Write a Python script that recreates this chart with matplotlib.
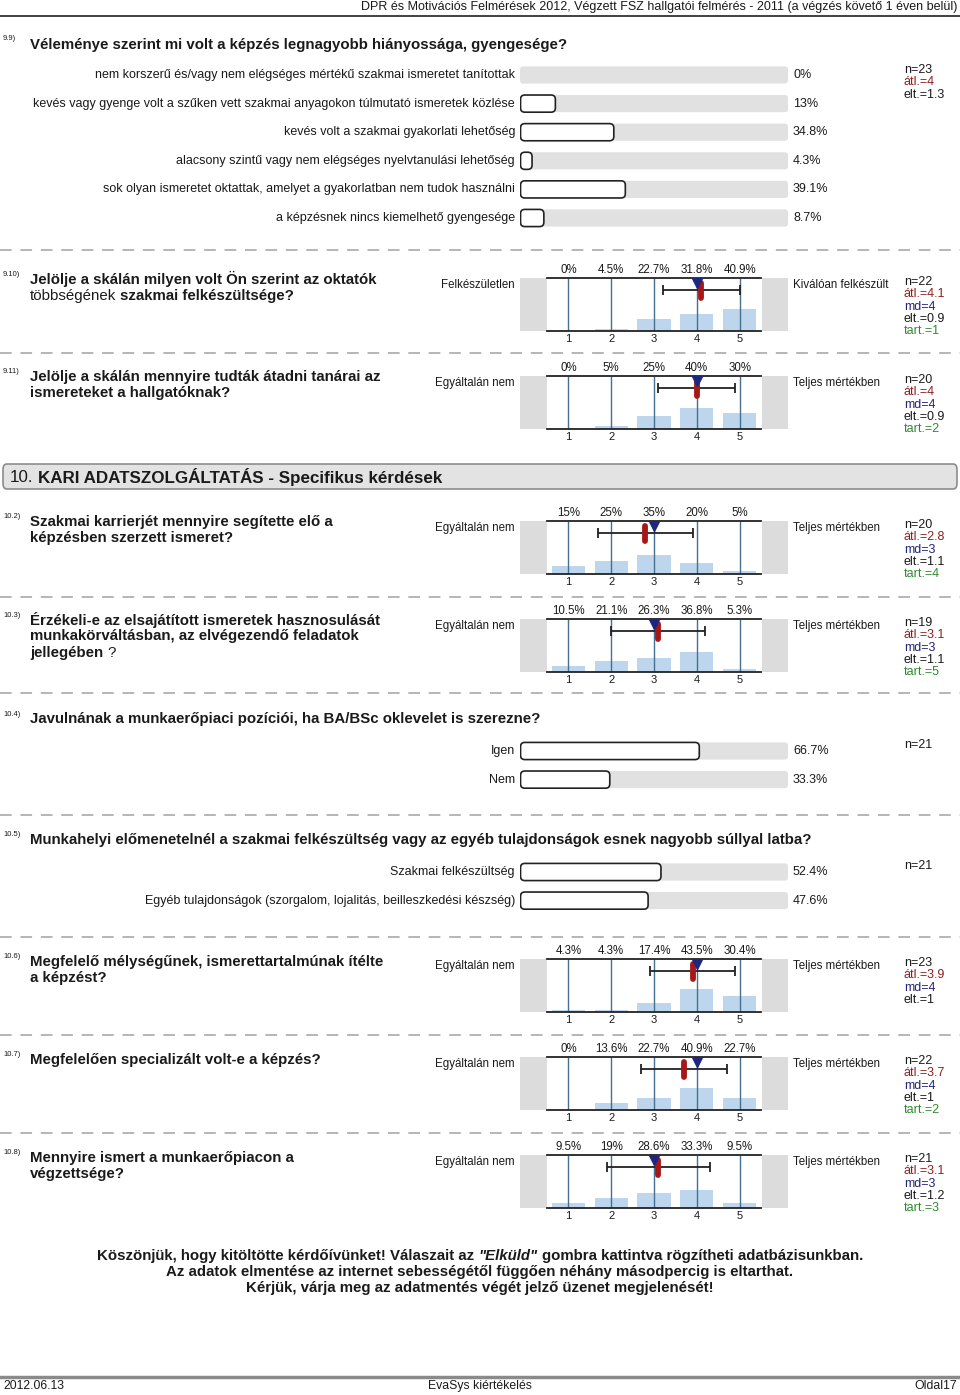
import matplotlib
matplotlib.use('Agg')
import matplotlib.pyplot as plt
from matplotlib.patches import FancyBboxPatch, Rectangle
from matplotlib.lines import Line2D

W, H = 960, 1395
SANS = ['Liberation Sans', 'DejaVu Sans']
plt.rcParams['font.family'] = SANS

# --- data ---------------------------------------------------------------
header = 'DPR és Motivációs Felmérések 2012, Végzett FSZ hallgatói felmérés - 2011 (a végzés követő 1 éven belül)'

q99_title = 'Véleménye szerint mi volt a képzés legnagyobb hiányossága, gyengesége?'
q99_labels = ['nem korszerű és/vagy nem elégséges mértékű szakmai ismeretet tanítottak',
              'kevés vagy gyenge volt a szűken vett szakmai anyagokon túlmutató ismeretek közlése',
              'kevés volt a szakmai gyakorlati lehetőség',
              'alacsony szintű vagy nem elégséges nyelvtanulási lehetőség',
              'sok olyan ismeretet oktattak, amelyet a gyakorlatban nem tudok használni',
              'a képzésnek nincs kiemelhető gyengesége']
q99_pct = [0, 13, 34.8, 4.3, 39.1, 8.7]
q99_stats = ['n=23', 'átl.=4', 'elt.=1.3']

q104_labels = ['Igen', 'Nem']
q104_pct = [66.7, 33.3]
q105_labels = ['Szakmai felkészültség',
               'Egyéb tulajdonságok (szorgalom, lojalitás, beilleszkedési készség)']
q105_pct = [52.4, 47.6]

scale_cats = [1, 2, 3, 4, 5]
s910_pct = [0, 4.5, 22.7, 31.8, 40.9]
s911_pct = [0, 5, 25, 40, 30]
s102_pct = [15, 25, 35, 20, 5]
s103_pct = [10.5, 21.1, 26.3, 36.8, 5.3]
s106_pct = [4.3, 4.3, 17.4, 43.5, 30.4]
s107_pct = [0, 13.6, 22.7, 40.9, 22.7]
s108_pct = [9.5, 19, 28.6, 33.3, 9.5]

# mean, median, std dev, n, tart (None = not shown)
s910_st = (4.1, 4, 0.9, 22, 1)
s911_st = (4, 4, 0.9, 20, 2)
s102_st = (2.8, 3, 1.1, 20, 4)
s103_st = (3.1, 3, 1.1, 19, 5)
s106_st = (3.9, 4, 1, 23, None)
s107_st = (3.7, 4, 1, 22, 2)
s108_st = (3.1, 3, 1.2, 21, 3)

thanks1 = 'Köszönjük, hogy kitöltötte kérdőívünket! Válaszait az'
thanks2 = 'Az adatok elmentése az internet sebességétől függően néhány másodpercig is eltarthat.'
thanks3 = 'Kérjük, várja meg az adatmentés végét jelző üzenet megjelenését!'
section = 'KARI ADATSZOLGÁLTATÁS - Specifikus kérdések'

RED = '#8e1f1f'
BLUE = '#23237a'
GREEN = '#2f8a2f'
DARK = '#1a1a1a'

fig = plt.figure(figsize=(W / 100, H / 100), dpi=100)
renderer = fig.canvas.get_renderer()


def txt(x, y, s, **kw):
    kw.setdefault('va', 'center')
    return fig.text(x / W, 1 - y / H, s, **kw)


def width_of(s, **kw):
    t = fig.text(0, 0, s, **kw)
    w = t.get_window_extent(renderer).width
    t.remove()
    return w


def fit_size(s, target, weight='bold'):
    return 10 * target / width_of(s, fontsize=10, fontweight=weight)


def rich(x, y, parts, size, center=False):
    # parts: list of (text, weight, style)
    ws = [width_of(p[0], fontsize=size, fontweight=p[1], fontstyle=p[2]) for p in parts]
    gap = width_of('x x', fontsize=size) - width_of('xx', fontsize=size)
    total = sum(ws) + gap * (len(parts) - 1)
    cx = x - total / 2 if center else x
    for p, w in zip(parts, ws):
        txt(cx, y, p[0], fontsize=size, fontweight=p[1], fontstyle=p[2], color=DARK)
        cx += w + gap


def qnum(y, s):
    txt(3, y, s, fontsize=5.5, color=DARK)


def dashed(y):
    fig.add_artist(Line2D([0, 1], [1 - y / H] * 2, color='#b5b5b5', lw=1.4,
                          dashes=(6, 4.5), transform=fig.transFigure))


def stats(y, items):
    for i, (s, c) in enumerate(items):
        txt(904, y + i * 12.3, s, fontsize=9, color=c)


def hbars(y0, labels, values):
    k = len(labels)
    step = 28.6
    ax = fig.add_axes([520 / W, 1 - (y0 + (k - 0.5) * step) / H, 268 / W, k * step / H])
    ax.set_xlim(0, 100)
    ax.set_ylim(k - 0.5, -0.5)
    ax.axis('off')
    asp = (1 / step) / (100 / 268)
    for i, (lab, v) in enumerate(zip(labels, values)):
        ax.add_patch(FancyBboxPatch((0, i - 0.3), 100, 0.6,
                                    boxstyle='round,pad=0,rounding_size=1.2',
                                    mutation_aspect=asp, fc='#e1e1e1', ec='none'))
        if v > 0:
            ax.add_patch(FancyBboxPatch((0.2, i - 0.3), v, 0.6,
                                        boxstyle='round,pad=0,rounding_size=1.6',
                                        mutation_aspect=asp, fc='white', ec='#222222', lw=1.2))
        ax.annotate(lab, xy=(0, i), xytext=(-5, 0), textcoords='offset pixels',
                    ha='right', va='center', fontsize=9, color=DARK, annotation_clip=False)
        ax.annotate(f'{v:g}%', xy=(100, i), xytext=(5, 0), textcoords='offset pixels',
                    ha='left', va='center', fontsize=9, color=DARK, annotation_clip=False)


def scale_panel(top, pcts, st, left_lab, right_lab):
    mean, md, sd, n, tart = st
    ax = fig.add_axes([547 / W, 1 - (top + 53) / H, 214 / W, 53 / H])
    ax.set_xlim(0.5, 5.5)
    ax.set_ylim(0, 100)
    ax.bar(scale_cats, pcts, width=0.78, color='#bdd6ee', zorder=1)
    ax.vlines(scale_cats, 0, 100, color='#45708f', lw=1, zorder=2)
    for side in ['left', 'right']:
        ax.spines[side].set_visible(False)
    for side in ['top', 'bottom']:
        ax.spines[side].set_linewidth(1.3)
        ax.spines[side].set_color('#222222')
    ax.set_xticks(scale_cats)
    ax.set_xticklabels([str(c) for c in scale_cats], fontsize=8, color=DARK)
    ax.tick_params(axis='x', length=0, pad=2)
    ax.set_yticks([])
    for c, p in zip(scale_cats, pcts):
        ax.annotate(f'{p:g}%', xy=(c, 1), xycoords=('data', 'axes fraction'),
                    xytext=(0, 2), textcoords='offset pixels', ha='center', va='bottom',
                    fontsize=8.3, color=DARK)
    ax.add_patch(Rectangle((-27 / 214, 0), 27 / 214, 1, transform=ax.transAxes,
                           clip_on=False, fc='#dcdcdc', ec='none'))
    ax.add_patch(Rectangle((1 + 1 / 214, 0), 26 / 214, 1, transform=ax.transAxes,
                           clip_on=False, fc='#dcdcdc', ec='none'))
    ax.errorbar(mean, 77, xerr=sd, fmt='none', ecolor='#222222', elinewidth=1.3,
                capsize=3.5, capthick=1.3, zorder=3)
    ax.plot([mean, mean], [63, 90], color='#a51818', lw=4.2, solid_capstyle='round', zorder=4)
    ax.plot(md, 91, marker='v', color='#1d2680', ms=6.5, zorder=5)
    txt(515, top + 7, left_lab, ha='right', fontsize=8.3, color=DARK)
    txt(793, top + 7, right_lab, ha='left', fontsize=8.3, color=DARK)
    items = [(f'n={n}', DARK), (f'átl.={mean:g}', RED), (f'md={md:g}', BLUE), (f'elt.={sd:g}', DARK)]
    if tart is not None:
        items.append((f'tart.={tart}', GREEN))
    stats(top + 4, items)


QS = fit_size(q99_title, 538)          # question font size
FS = fit_size(thanks2, 628)            # closing text size
HS = fit_size(header, 595, 'normal')   # page header size
SS = fit_size(section, 405)            # section title size

# header
txt(957, 7, header, ha='right', fontsize=HS, color=DARK)
fig.add_artist(Line2D([0, 1], [1 - 15.5 / H] * 2, color='#333333', lw=1.3, transform=fig.transFigure))

# 9.9
qnum(39, '9.9)')
rich(30, 45, [(q99_title, 'bold', 'normal')], QS)
hbars(75, q99_labels, q99_pct)
stats(70, [(q99_stats[0], DARK), (q99_stats[1], RED), (q99_stats[2], DARK)])
dashed(250)

# 9.10
qnum(274, '9.10)')
rich(30, 279, [('Jelölje a skálán milyen volt Ön szerint az oktatók', 'bold', 'normal')], QS)
rich(30, 296, [('többségének', 'normal', 'normal'), ('szakmai felkészültsége?', 'bold', 'normal')], QS)
scale_panel(278, s910_pct, s910_st, 'Felkészületlen', 'Kiválóan felkészült')
dashed(353)

# 9.11
qnum(372, '9.11)')
rich(30, 377, [('Jelölje a skálán mennyire tudták átadni tanárai az', 'bold', 'normal')], QS)
rich(30, 393, [('ismereteket a hallgatóknak?', 'bold', 'normal')], QS)
scale_panel(376, s911_pct, s911_st, 'Egyáltalán nem', 'Teljes mértékben')

# section header
fig.add_artist(FancyBboxPatch((3 / W, 1 - 489 / H), 954 / W, 25 / H,
                              boxstyle='round,pad=0,rounding_size=0.004',
                              fc='#e3e3e3', ec='#8c8c8c', lw=1.2, transform=fig.transFigure))
rich(10, 477, [('10.', 'normal', 'normal'), (section, 'bold', 'normal')], SS)

# 10.2
qnum(517, '10.2)')
rich(30, 522, [('Szakmai karrierjét mennyire segítette elő a', 'bold', 'normal')], QS)
rich(30, 538, [('képzésben szerzett ismeret?', 'bold', 'normal')], QS)
scale_panel(521, s102_pct, s102_st, 'Egyáltalán nem', 'Teljes mértékben')
dashed(597)

# 10.3
qnum(615, '10.3)')
rich(30, 620, [('Érzékeli-e az elsajátított ismeretek hasznosulását', 'bold', 'normal')], QS)
rich(30, 636, [('munkakörváltásban, az elvégezendő feladatok', 'bold', 'normal')], QS)
rich(30, 653, [('jellegében', 'bold', 'normal'), ('?', 'normal', 'normal')], QS)
scale_panel(619, s103_pct, s103_st, 'Egyáltalán nem', 'Teljes mértékben')
dashed(693)

# 10.4
qnum(714, '10.4)')
rich(30, 719, [('Javulnának a munkaerőpiaci pozíciói, ha BA/BSc oklevelet is szerezne?', 'bold', 'normal')], QS)
hbars(751, q104_labels, q104_pct)
stats(745, [('n=21', DARK)])
dashed(815)

# 10.5
qnum(835, '10.5)')
rich(30, 840, [('Munkahelyi előmenetelnél a szakmai felkészültség vagy az egyéb tulajdonságok esnek nagyobb súllyal latba?', 'bold', 'normal')], QS)
hbars(872, q105_labels, q105_pct)
stats(866, [('n=21', DARK)])
dashed(937)

# 10.6
qnum(957, '10.6)')
rich(30, 962, [('Megfelelő mélységűnek, ismerettartalmúnak ítélte', 'bold', 'normal')], QS)
rich(30, 978, [('a képzést?', 'bold', 'normal')], QS)
scale_panel(959, s106_pct, s106_st, 'Egyáltalán nem', 'Teljes mértékben')
dashed(1035)

# 10.7
qnum(1055, '10.7)')
rich(30, 1060, [('Megfelelően specializált volt-e a képzés?', 'bold', 'normal')], QS)
scale_panel(1057, s107_pct, s107_st, 'Egyáltalán nem', 'Teljes mértékben')
dashed(1133)

# 10.8
qnum(1153, '10.8)')
rich(30, 1158, [('Mennyire ismert a munkaerőpiacon a', 'bold', 'normal')], QS)
rich(30, 1174, [('végzettsége?', 'bold', 'normal')], QS)
scale_panel(1155, s108_pct, s108_st, 'Egyáltalán nem', 'Teljes mértékben')

# closing text
rich(480, 1256, [(thanks1, 'bold', 'normal'),
                 ('"Elküld"', 'bold', 'italic'),
                 ('gombra kattintva rögzítheti adatbázisunkban.', 'bold', 'normal')], FS, center=True)
rich(480, 1272, [(thanks2, 'bold', 'normal')], FS, center=True)
rich(480, 1288, [(thanks3, 'bold', 'normal')], FS, center=True)

# footer
fig.add_artist(Line2D([0, 1], [1 - 1377 / H] * 2, color='#8a8a8a', lw=2.5, transform=fig.transFigure))
txt(3, 1386, '2012.06.13', fontsize=8.8, color=DARK)
txt(480, 1386, 'EvaSys kiértékelés', ha='center', fontsize=8.8, color=DARK)
txt(957, 1386, 'Oldal17', ha='right', fontsize=8.8, color=DARK)

fig.savefig('out.png', dpi=100, facecolor='white')
